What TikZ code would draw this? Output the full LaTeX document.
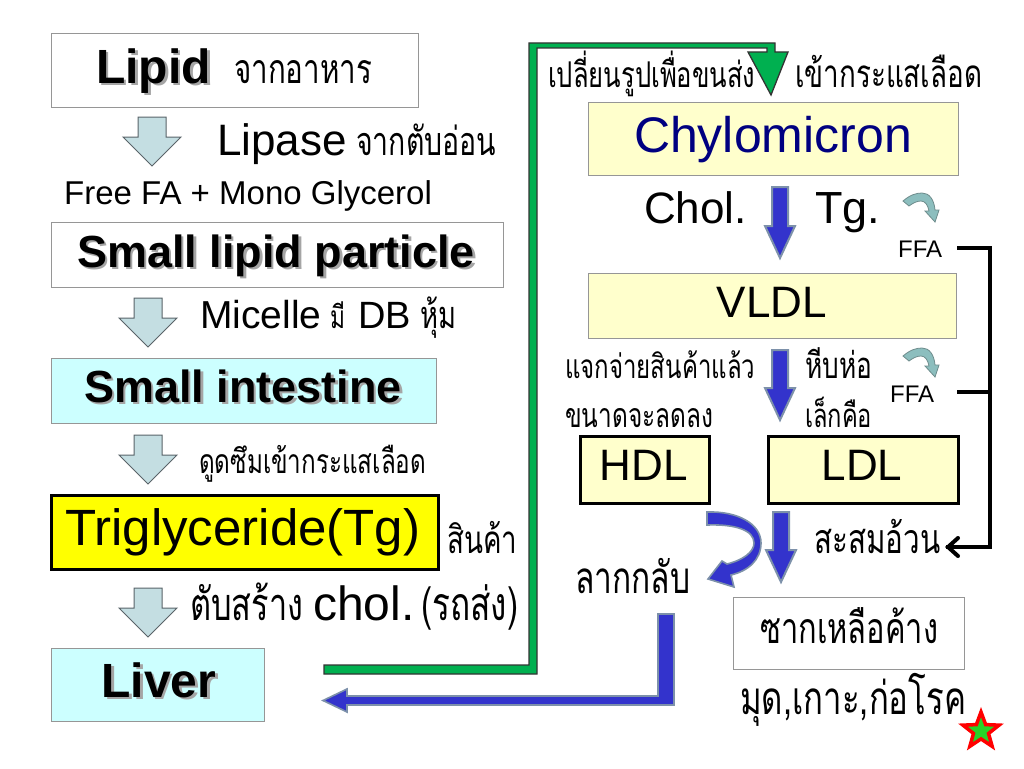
\documentclass[tikz,border=0pt]{standalone}
\usepackage{fontspec}
\setmainfont{Liberation Sans}
\newfontfamily\thai[Script=Thai,FakeStretch=0.72]{Loma}
\usetikzlibrary{shapes.geometric,arrows.meta}
\definecolor{boxgray}{RGB}{150,150,150}
\definecolor{lcyan}{RGB}{204,255,255}
\definecolor{lyellow}{RGB}{255,255,204}
\definecolor{ayellow}{RGB}{255,255,0}
\definecolor{arrfill}{RGB}{196,222,226}
\definecolor{arrdraw}{RGB}{90,100,105}
\definecolor{bblue}{RGB}{51,51,204}
\definecolor{bborder}{RGB}{125,145,170}
\definecolor{ggreen}{RGB}{0,176,80}
\definecolor{navyc}{RGB}{0,0,128}
\definecolor{curlfill}{RGB}{140,190,190}
\definecolor{curldraw}{RGB}{110,140,140}
\definecolor{shadowc}{RGB}{165,165,165}
\newcommand\fs[1]{\fontsize{#1}{#1}\selectfont}
\newcommand\shtext[1]{\rlap{\kern2.5pt\raisebox{-2.5pt}{\color{shadowc}#1}}#1}
\newcommand\thx[2]{\resizebox{#1pt}{!}{\fs{40}\thai #2}}
\newcommand\garrow[2]{\draw[garr] (#1-14,#2) -- (#1+14,#2) -- (#1+14,#2+20) -- (#1+29,#2+20) -- (#1,#2+49) -- (#1-29,#2+20) -- (#1-14,#2+20) -- cycle;}
\newcommand\barrow[3]{\draw[barr] (#1-8,#2) -- (#1+8,#2) -- (#1+8,#3-32) -- (#1+15,#3-32) -- (#1,#3) -- (#1-15,#3-32) -- (#1-8,#3-32) -- cycle;}
\newcommand\curlarrow{\draw[curl] (903,201) .. controls (910,195) and (916,193) .. (922,193) .. controls (929,193) and (934,199) .. (935,210) -- (939,210) -- (935,222) -- (925,211) -- (929,211) .. controls (928,205) and (925,201) .. (921,201) .. controls (917,201) and (913,203) .. (909,206) -- cycle;}
\begin{document}
\begin{tikzpicture}[x=1pt,y=-1pt,
  lbl/.style={inner sep=0pt, anchor=base west},
  ctr/.style={inner sep=0pt, anchor=base},
  box/.style={draw=boxgray, line width=1pt, inner sep=0pt, anchor=north west},
  bbox/.style={draw=black, line width=3pt, inner sep=0pt, anchor=north west},
  garr/.style={fill=arrfill, draw=arrdraw, line width=1pt, line join=miter},
  barr/.style={fill=bblue, draw=bborder, line width=2pt, line join=miter},
  curl/.style={fill=curlfill, draw=curldraw, line width=0.8pt},
  blk/.style={draw=black, line width=4pt},
]
\fill[white] (0,0) rectangle (1024,768);
\useasboundingbox (0,0) rectangle (1024,768);

% ---------- left column boxes ----------
\node[box, fill=white, minimum width=367, minimum height=74] (lipidbox) at (51,33) {};
\node[box, fill=white, minimum width=452, minimum height=65] (slpbox) at (51,222) {};
\node[box, fill=lcyan, minimum width=385, minimum height=65] (sibox) at (51,358) {};
\node[bbox, fill=ayellow, minimum width=387, minimum height=74] (tgbox) at (50,494) {};
\node[box, fill=lcyan, minimum width=213, minimum height=73] (liverbox) at (51,648) {};

\node[lbl] (lipid) at (96,83) {\fs{48}\bfseries\shtext{Lipid}};
\node[lbl] (t1) at (234,83) {\thx{138}{จากอาหาร}};
\garrow{152}{117}
\node[lbl] (lipase) at (217,155) {\fs{44}Lipase};
\node[lbl] (t2) at (356,155) {\thx{140}{จากตับอ่อน}};
\node[lbl] (ffa) at (64,204) {\fs{33}Free FA + Mono Glycerol};
\node[lbl] (slp) at (77,267) {\fs{45}\bfseries\shtext{Small lipid particle}};
\garrow{148}{298}
\node[lbl] (micelle) at (200,328) {\fs{39}Micelle};
\node[lbl] (t3) at (330,328) {\thx{15}{มี}};
\node[lbl] (db) at (358,328) {\fs{38}DB};
\node[lbl] (t4) at (420,328) {\thx{36}{หุ้ม}};
\node[ctr] (si) at (243,402) {\fs{45}\bfseries\shtext{Small intestine}};
\garrow{148}{435}
\node[lbl] (t5) at (199,473) {\thx{227}{ดูดซึมเข้ากระแสเลือด}};
\node[lbl] (tg) at (65,545) {\fs{51}Triglyceride(Tg)};
\node[lbl] (t6) at (447,553) {\thx{70}{สินค้า}};
\garrow{148}{588}
\node[lbl] (t7) at (190,620) {\thx{113}{ตับสร้าง}};
\node[lbl] (chol) at (313,620) {\fs{48}chol.};
\node[lbl] (t8) at (421,620) {\thx{97}{(รถส่ง)}};
\node[ctr] (liver) at (159,697) {\fs{48}\bfseries\shtext{Liver}};

% ---------- green connector ----------
\filldraw[fill=ggreen, draw=black!80, line width=1.3pt, line join=miter]
  (324,665) -- (529,665) -- (529,43) -- (775,43) -- (775,52) -- (788,52) -- (771,95)
  -- (748,52) -- (767,52) -- (767,48) -- (537,48) -- (537,674) -- (324,674) -- cycle;

% ---------- right column ----------
\node[lbl] (t9) at (548,87) {\thx{207}{เปลี่ยนรูปเพื่อขนส่ง}};
\node[lbl] (t10) at (795,87) {\thx{187}{เข้ากระแสเลือด}};
\node[box, fill=lyellow, minimum width=370, minimum height=73] (chylobox) at (588,102) {};
\node[ctr, text=navyc] (chylo) at (773,152) {\fs{50}Chylomicron};
\node[lbl] (cholC) at (644,223) {\fs{44}Chol.};
\barrow{780}{187}{258}
\node[lbl] (tgdot) at (815,223) {\fs{45}Tg.};
\curlarrow
\node[lbl] (ffa1) at (898,257) {\fs{24}FFA};
\node[box, fill=lyellow, minimum width=368, minimum height=65] (vldlbox) at (588,273) {};
\node[ctr] (vldl) at (772,317) {\fs{44}VLDL};
\barrow{780}{350}{420}
\node[lbl] (t11) at (565,378) {\thx{190}{แจกจ่ายสินค้าแล้ว}};
\node[lbl] (t12) at (805,378) {\thx{67}{หีบห่อ}};
\begin{scope}[shift={(0,155)}]\curlarrow\end{scope}
\node[lbl] (ffa2) at (890,402) {\fs{24}FFA};
\node[lbl] (t13) at (565,427) {\thx{148}{ขนาดจะลดลง}};
\node[lbl] (t14) at (805,427) {\thx{67}{เล็กคือ}};
\node[bbox, fill=lyellow, minimum width=129, minimum height=67] (hdlbox) at (579,435) {};
\node[ctr] (hdl) at (644,480) {\fs{44}HDL};
\node[bbox, fill=lyellow, minimum width=190, minimum height=67] (ldlbox) at (767,435) {};
\node[ctr] (ldl) at (862,480) {\fs{44}LDL};

% FFA connector
\coordinate (f1) at (957,248);
\coordinate (f2) at (957,392);
\coordinate (fcorner) at (990,248);
\node[lbl] (t15) at (814,553) {\thx{126}{สะสมอ้วน}};
\coordinate (fend) at (946,547);
\draw[blk] (f1) -- (fcorner) |- (fend);
\draw[blk] (f2) -- (f2 -| fcorner);
\draw[black, line width=4pt, line cap=round, line join=miter] (958,538) -- (948,547) -- (958,556);

% curved blue arrow and straight blue arrow
\draw[barr, line width=1.6pt]
  (707,512) .. controls (738,511) and (761,524) .. (761,543) .. controls (761,560) and (748,571) .. (731,575)
  -- (734,587) -- (708,579) -- (722,561) -- (727,564)
  .. controls (743,560) and (754,552) .. (754,543) .. controls (754,530) and (735,524) .. (707,525) -- cycle;
\barrow{781}{512}{582}
\node[lbl] (t16) at (575,593) {\thx{115}{ลากกลับ}};

% blue L connector
\draw[barr, line width=1.6pt]
  (658,614) -- (674,614) -- (674,705) -- (347,705) -- (347,712) -- (323,700.5)
  -- (347,689) -- (347,696) -- (658,696) -- cycle;

\node[box, fill=white, minimum width=231, minimum height=72] (sakbox) at (733,597) {};
\node[lbl] (t17) at (760,643) {\thx{178}{ซากเหลือค้าง}};
\node[lbl] (t18) at (740,714) {\thx{226}{มุด,เกาะ,ก่อโรค}};
\node[star, star points=5, star point ratio=2.4, fill={rgb,255:red,40;green,210;blue,40}, draw=red, line width=3.5pt, minimum size=38pt, inner sep=0pt] (star) at (981,731) {};
\end{tikzpicture}
\end{document}
